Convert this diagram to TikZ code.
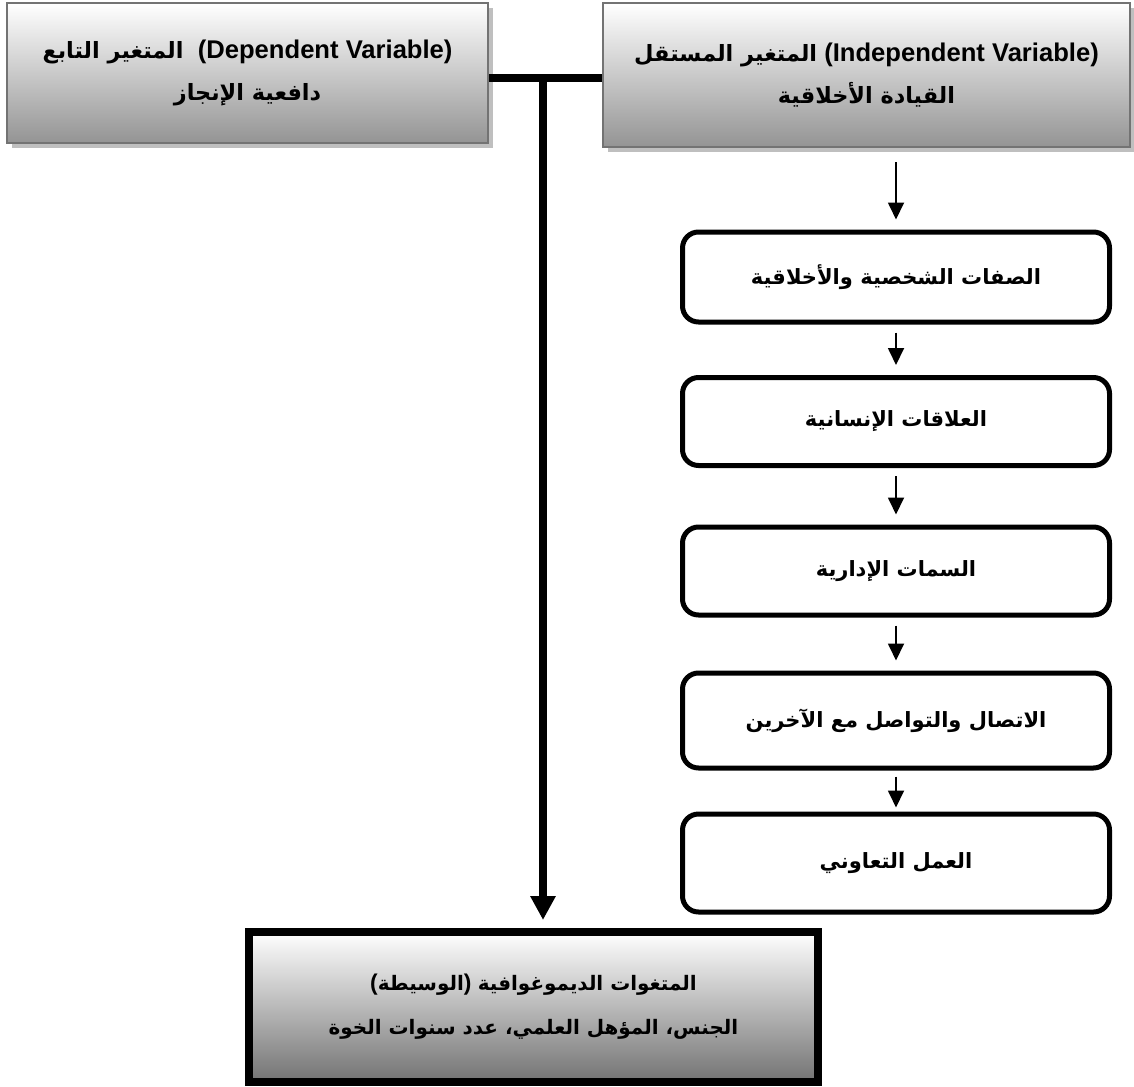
\documentclass[tikz,border=0pt]{standalone}
\usepackage{fontspec}
\setmainfont{Liberation Sans}
\newfontfamily\arfont[Script=Arabic, Scale=0.875]{DejaVu Sans}
\TeXXeTstate=1
\usetikzlibrary{positioning, shadows, arrows.meta}

\tikzset{
  varbox/.style={draw=black!55, line width=1pt, top color=white, bottom color=black!42,
    drop shadow={shadow xshift=2.5pt, shadow yshift=-2.5pt, fill=black!25, opacity=1},
    align=center, font=\bfseries\fontsize{12.8}{21}\selectfont},
  dimbox/.style={draw, line width=2.5pt, rounded corners=8pt, fill=white,
    minimum width=213.5pt, minimum height=45pt, font=\bfseries\fontsize{12}{14}\selectfont},
  flow/.style={-{Triangle[width=8pt,length=8.5pt]}, line width=0.9pt},
  bigflow/.style={-{Triangle[width=12pt,length=12pt]}, line width=3.8pt},
}

\begin{document}
\begin{tikzpicture}[x=0.5pt, y=-0.5pt]
    \useasboundingbox (0,0) rectangle (1134,1086);

    % the two variables at the top
    \node (dep) at (247.5,73) [varbox, minimum width=240.5pt, minimum height=70pt]
      {{\arfont\beginR المتغير التابع\endR}\ \ (Dependent Variable)\\
       {\arfont\beginR دافعية الإنجاز\endR}};
    \node (indep) at (866.5,75) [varbox, minimum width=263.5pt, minimum height=72pt]
      {{\arfont\beginR المتغير المستقل\endR} (Independent Variable)\\
       {\arfont\beginR القيادة الأخلاقية\endR}};

    % dimensions of ethical leadership
    \node (traits) at (896,277) [dimbox] {\arfont\beginR الصفات الشخصية والأخلاقية\endR};
    \node (relations) at (896,421.5) [dimbox, minimum height=44pt] {\arfont\beginR العلاقات الإنسانية\endR};
    \node (admin) at (896,571) [dimbox, minimum height=44pt] {\arfont\beginR السمات الإدارية\endR};
    \node (comm) at (896,720.5) [dimbox, minimum height=47.5pt] {\arfont\beginR الاتصال والتواصل مع الآخرين\endR};
    \node (coop) at (896,863) [dimbox, minimum height=49pt] {\arfont\beginR العمل التعاوني\endR};

    % moderating variables
    \node (demo) at (533.5,1007) [draw, line width=4pt, top color=white, bottom color=black!55,
      minimum width=284.5pt, minimum height=75pt, align=center,
      font=\bfseries\fontsize{11.4}{22}\selectfont]
      {{(}{\arfont\beginR الوسيطة\endR}{)}\ {\arfont\beginR المتغوات الديموغوافية\endR}\\
       {\arfont\beginR الجنس، المؤهل العلمي، عدد سنوات الخوة\endR}};

    \coordinate (tee) at (543,78);

    \draw[line width=4.3pt] (dep.east |- tee) -- (indep.west |- tee);
    \draw[bigflow, shorten >=4pt] (tee) -- (tee |- demo.north);

    \draw[flow, shorten <=7pt, shorten >=5pt] (indep.south -| traits.north) -- (traits.north);
    \draw[flow, shorten <=4pt, shorten >=5pt] (traits) -- (relations);
    \draw[flow, shorten <=4pt, shorten >=5pt] (relations) -- (admin);
    \draw[flow, shorten <=4pt, shorten >=5pt] (admin) -- (comm);
    \draw[flow, shorten <=3pt, shorten >=2pt] (comm) -- (coop);
\end{tikzpicture}
\end{document}
